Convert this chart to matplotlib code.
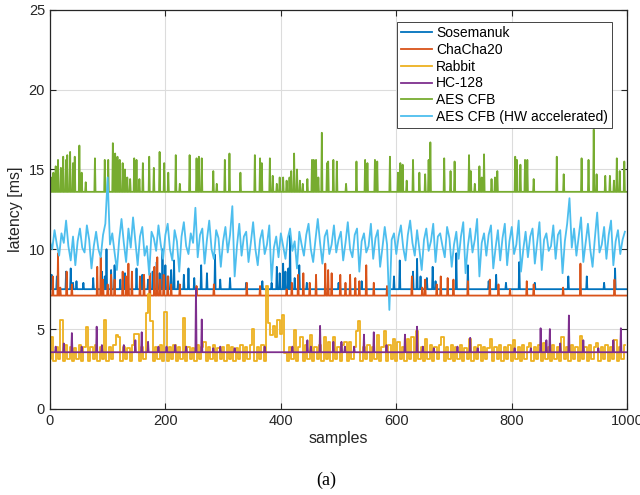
import numpy as np
import matplotlib
matplotlib.use("Agg")
import matplotlib.pyplot as plt

plt.rcParams['font.family'] = ['Liberation Sans', 'DejaVu Sans']

n_samples = 1000
series_names = ['Sosemanuk', 'ChaCha20', 'Rabbit', 'HC-128', 'AES CFB', 'AES CFB (HW accelerated)']

# flat series: baseline latency + (sample, latency) spikes
sosemanuk_base = 7.5
sosemanuk_spikes = [(3, 8.4), (12, 8.3), (28, 8.6), (36, 8.8), (40, 7.9), (46, 8.0), (58, 7.9), (75, 8.2),
                    (90, 8.6), (95, 8.3), (98, 10.0), (106, 8.7), (112, 9.0), (122, 8.1), (130, 8.5), (135, 8.2),
                    (150, 8.8), (160, 8.4), (170, 8.1), (178, 8.6), (185, 9.2), (190, 8.5), (195, 10.0), (200, 9.0),
                    (205, 8.3), (210, 8.7), (215, 9.3), (222, 8.0), (232, 8.4), (240, 8.8), (250, 8.2), (262, 9.0),
                    (272, 8.5), (286, 9.65), (295, 8.1), (312, 8.2), (340, 7.9), (368, 8.0), (384, 7.9), (393, 8.9),
                    (398, 8.5), (404, 9.1), (408, 8.6), (413, 8.8), (416, 10.9), (424, 8.2), (432, 9.0), (445, 7.9),
                    (500, 7.9), (540, 8.0), (596, 8.3), (606, 9.3), (629, 8.6), (636, 9.4), (642, 8.3), (653, 8.2),
                    (663, 8.9), (668, 8.0), (704, 9.75), (724, 9.0), (760, 8.0), (773, 8.4), (790, 7.9), (813, 9.2),
                    (840, 7.9), (898, 8.3), (930, 8.3), (960, 7.9), (979, 8.8)]

chacha_base = 7.1
chacha_spikes = [(5, 8.3), (14, 9.75), (18, 7.6), (29, 8.6), (38, 7.8), (82, 8.9), (88, 9.5), (92, 8.1),
                 (100, 7.8), (106, 8.4), (112, 8.1), (126, 8.6), (132, 8.3), (136, 9.1), (142, 8.6), (156, 8.3),
                 (163, 8.4), (173, 8.5), (181, 8.9), (186, 9.5), (191, 8.1), (197, 8.4), (204, 8.3), (210, 7.8),
                 (225, 7.8), (254, 7.7), (284, 7.8), (341, 7.9), (364, 7.7), (410, 7.5), (419, 7.9), (430, 8.4),
                 (439, 8.5), (450, 7.9), (461, 8.4), (477, 9.1), (482, 8.7), (488, 8.5), (503, 8.4), (512, 7.9),
                 (520, 8.4), (529, 8.2), (536, 8.0), (548, 9.0), (561, 7.9), (584, 7.7), (627, 8.3), (645, 7.6),
                 (650, 8.1), (670, 7.8), (677, 8.3), (689, 8.2), (699, 8.1), (724, 8.0), (762, 8.1), (777, 7.8),
                 (797, 7.5), (826, 8.0), (838, 7.8), (889, 7.6), (919, 9.1), (978, 8.1)]

hc128_base = 3.55
hc128_spikes = [(10, 3.9), (24, 4.1), (38, 4.75), (55, 3.9), (81, 5.15), (90, 4.0), (128, 4.0), (148, 4.3),
                (159, 4.8), (170, 4.2), (188, 3.9), (202, 3.9), (217, 4.0), (236, 3.9), (253, 7.55), (263, 5.6),
                (283, 3.8), (295, 3.9), (320, 3.8), (372, 3.9), (420, 3.9), (446, 4.3), (452, 3.9), (468, 5.2),
                (491, 4.2), (505, 4.2), (511, 3.9), (527, 3.9), (544, 4.65), (561, 4.8), (583, 4.0), (615, 4.65),
                (636, 5.15), (646, 3.9), (665, 3.8), (706, 3.9), (728, 4.45), (741, 3.8), (805, 3.8), (833, 3.8),
                (850, 5.05), (860, 4.3), (866, 5.0), (884, 4.1), (899, 5.85), (924, 4.3), (950, 3.8), (976, 4.3),
                (989, 5.05)]

aes_base = 13.6
aes_spikes = [(2, 14.5), (6, 14.8), (10, 15.2), (14, 15.6), (19, 15.1), (23, 15.8), (28, 15.6), (30, 15.9),
              (35, 16.1), (40, 15.4), (43, 15.8), (51, 16.5), (55, 14.8), (62, 14.2), (78, 15.7), (95, 15.6),
              (101, 15.6), (109, 16.65), (113, 16.0), (117, 15.8), (121, 15.6), (126, 15.4), (130, 15.0), (134, 14.5),
              (139, 14.4), (146, 15.7), (150, 15.6), (155, 14.4), (161, 15.4), (172, 15.8), (180, 15.1), (190, 16.1),
              (198, 15.4), (205, 14.8), (218, 15.9), (225, 14.1), (242, 15.9), (254, 15.7), (258, 15.8), (263, 15.7),
              (283, 14.9), (289, 14.1), (303, 15.6), (311, 16.0), (330, 14.8), (355, 15.9), (364, 15.7), (367, 15.4),
              (381, 15.7), (386, 14.6), (393, 14.1), (398, 14.5), (404, 14.5), (410, 14.3), (415, 14.5), (418, 14.9),
              (423, 16.0), (428, 15.0), (433, 14.3), (438, 14.1), (446, 14.4), (454, 15.6), (457, 15.6), (461, 15.6),
              (465, 14.5), (471, 17.3), (480, 15.4), (482, 15.5), (491, 15.6), (497, 15.5), (513, 14.1), (531, 15.5),
              (546, 15.6), (550, 15.4), (563, 15.6), (567, 15.5), (589, 15.8), (603, 14.8), (607, 15.4), (611, 15.3),
              (618, 14.3), (629, 15.6), (640, 14.8), (650, 14.7), (656, 15.6), (659, 16.7), (683, 15.7), (694, 14.9),
              (701, 15.5), (726, 15.9), (729, 14.9), (736, 14.1), (744, 15.2), (748, 14.5), (752, 15.95), (765, 14.4),
              (771, 14.5), (775, 14.9), (806, 15.8), (809, 15.6), (815, 15.3), (823, 15.6), (827, 15.6), (838, 14.4),
              (878, 15.8), (890, 14.7), (921, 15.7), (933, 15.6), (942, 17.5), (947, 14.7), (962, 14.6), (970, 14.6),
              (977, 14.3), (982, 15.7), (987, 14.9), (995, 15.5)]

# noisy series, read every 4th sample
step = 4
rabbit = [3.1, 4.5, 3.0, 3.9, 3.1, 5.6, 3.0, 4.0, 3.1, 3.9, 3.0, 3.8, 3.1, 4.0, 3.0, 3.9, 5.1, 3.0, 3.9, 3.1, 4.0, 3.0, 3.9, 3.1, 5.6,
          3.0, 3.9, 3.1, 4.0, 4.6, 4.5, 3.0, 3.9, 3.1, 3.8, 3.0, 4.0, 4.7, 4.7, 3.0, 3.9, 3.1, 6.0, 7.2, 5.5, 3.0, 3.9, 3.1, 4.0, 3.0,
          6.1, 3.0, 3.9, 3.1, 4.0, 3.0, 3.9, 3.1, 5.7, 3.0, 3.9, 3.1, 3.8, 3.0, 4.0, 3.1, 3.9, 4.2, 3.0, 3.9, 3.1, 4.0, 3.0, 3.8, 3.1,
          3.9, 3.0, 4.0, 3.1, 3.9, 3.0, 3.8, 3.1, 4.0, 3.0, 3.9, 3.1, 4.0, 5.0, 3.0, 3.9, 3.1, 4.0, 3.0, 7.7, 5.4, 4.6, 5.2, 4.5, 5.6,
          4.7, 5.9, 3.5, 3.0, 3.9, 3.1, 4.95, 3.0, 3.9, 4.5, 3.0, 4.0, 3.1, 4.6, 3.0, 3.9, 3.1, 4.0, 3.0, 4.5, 3.1, 4.2, 3.0, 4.5, 3.1,
          3.9, 3.0, 4.0, 4.2, 3.0, 4.2, 3.1, 3.9, 4.85, 5.5, 3.0, 3.9, 3.1, 4.0, 3.0, 3.9, 3.1, 4.65, 3.0, 3.9, 4.85, 3.0, 4.0, 3.1, 4.4,
          3.0, 4.2, 3.1, 3.9, 3.0, 4.4, 3.1, 4.5, 3.0, 4.85, 3.1, 3.9, 3.0, 4.4, 3.1, 4.0, 3.0, 3.9, 3.1, 4.0, 4.5, 3.0, 3.9, 3.1, 4.0,
          3.0, 3.9, 3.1, 4.0, 3.0, 3.8, 3.1, 4.4, 3.0, 3.9, 3.1, 4.0, 3.0, 3.9, 3.1, 3.8, 4.4, 3.0, 3.9, 3.1, 4.0, 3.0, 3.9, 3.1, 4.0,
          3.0, 4.3, 3.1, 3.9, 3.0, 4.0, 3.1, 3.9, 4.1, 3.0, 3.9, 3.1, 4.0, 3.0, 4.1, 3.1, 3.9, 3.0, 4.0, 3.1, 3.9, 3.0, 4.5, 3.1, 3.9,
          3.0, 4.0, 3.1, 3.9, 3.0, 4.55, 3.1, 3.9, 3.0, 4.0, 3.1, 3.9, 4.1, 3.0, 3.9, 3.1, 4.0, 3.0, 3.9, 3.1, 4.3, 3.0, 3.9, 3.1, 4.0]

aes_hw = [10.5, 10.0, 11.2, 10.3, 9.6, 11.0, 10.4, 11.8, 10.2, 9.3, 10.8, 9.0, 10.5, 11.3, 10.1, 9.8, 11.5, 10.6, 8.8, 10.2, 11.1, 10.0, 9.5, 10.9, 11.6,
          14.5, 10.3, 11.0, 9.8, 8.7, 10.6, 11.9, 10.4, 9.2, 11.3, 10.1, 12.0, 10.5, 9.0, 10.8, 11.4, 9.6, 10.2, 8.4, 11.1, 10.7, 9.9, 11.5, 10.3, 9.4,
          10.9, 11.6, 10.0, 9.3, 11.2, 10.5, 8.6, 10.8, 11.7, 10.2, 9.7, 11.0, 10.4, 12.6, 9.5, 10.9, 11.3, 9.1, 10.6, 11.8, 10.0, 9.4, 11.2, 10.7, 8.9,
          10.5, 11.4, 9.8, 10.9, 12.7, 8.3, 10.2, 11.6, 9.6, 10.8, 11.1, 9.2, 10.4, 11.7, 10.0, 9.0, 10.6, 11.2, 9.7, 10.3, 11.5, 8.0, 10.1, 10.8, 9.5,
          11.0, 10.2, 9.4, 10.7, 11.3, 9.9, 10.5, 8.8, 11.1, 10.3, 9.6, 10.9, 11.6, 10.0, 9.2, 10.6, 11.9, 10.4, 9.1, 10.8, 11.2, 9.7, 10.3, 11.5, 9.8,
          10.6, 11.1, 9.3, 10.4, 11.7, 10.0, 9.5, 10.9, 11.3, 8.6, 10.5, 11.0, 9.8, 10.2, 11.6, 9.4, 10.7, 11.2, 8.9, 10.1, 11.4, 10.3, 6.2, 10.6, 11.0,
          9.7, 10.8, 11.5, 10.1, 9.3, 10.9, 11.8, 10.4, 9.6, 11.2, 10.0, 8.7, 10.6, 11.3, 9.9, 10.5, 11.6, 9.2, 10.8, 11.0, 10.2, 9.5, 11.4, 10.7, 8.9,
          10.3, 11.1, 9.4, 10.8, 11.7, 8.5, 10.2, 11.3, 9.8, 10.6, 11.9, 8.3, 10.4, 11.0, 9.6, 10.9, 11.5, 8.8, 10.1, 11.2, 9.3, 10.7, 11.6, 9.0, 10.5,
          11.4, 9.7, 10.3, 11.8, 8.6, 10.0, 11.1, 9.5, 10.8, 11.3, 9.1, 10.4, 11.7, 8.7, 10.6, 11.0, 9.9, 10.2, 11.5, 9.4, 10.9, 11.2, 8.5, 10.5, 11.6,
          13.2, 10.1, 11.3, 9.6, 10.8, 12.0, 9.2, 10.4, 11.6, 10.0, 8.9, 10.7, 12.3, 9.8, 10.3, 11.4, 9.4, 10.9, 11.8, 9.0, 10.5, 11.2, 9.7, 10.6, 11.1]

colors = ['#0072BD', '#D95319', '#EDB120', '#7E2F8E', '#77AC30', '#4DBEEE']


def with_spikes(base, spikes):
    y = np.full(n_samples, base)
    for i, v in spikes:
        y[i] = v
    return y


x_full = np.arange(n_samples)
x_step = np.arange(0, n_samples, step)

fig = plt.figure(figsize=(6.4, 4.95), dpi=100)
ax = fig.add_axes([0.078, 0.174, 0.902, 0.806])

ax.plot(x_full, with_spikes(sosemanuk_base, sosemanuk_spikes), color=colors[0], lw=1.3, label=series_names[0])
ax.plot(x_full, with_spikes(chacha_base, chacha_spikes), color=colors[1], lw=1.3, label=series_names[1])
ax.plot(x_step, rabbit, color=colors[2], lw=1.3, drawstyle='steps-mid', label=series_names[2])
ax.plot(x_full, with_spikes(hc128_base, hc128_spikes), color=colors[3], lw=1.3, label=series_names[3])
ax.plot(x_full, with_spikes(aes_base, aes_spikes), color=colors[4], lw=1.3, label=series_names[4])
ax.plot(x_step, aes_hw, color=colors[5], lw=1.3, label=series_names[5])

ax.set_xlim(0, 1000)
ax.set_ylim(0, 25)
ax.set_xticks(np.arange(0, 1001, 200))
ax.set_yticks(np.arange(0, 26, 5))
ax.grid(True, color='#dcdcdc', lw=0.8)
ax.set_axisbelow(True)
ax.tick_params(direction='in', top=True, right=True, labelsize=10.5, colors='#262626', length=4)
for s in ax.spines.values():
    s.set_color('#262626')
    s.set_linewidth(0.9)

ax.set_xlabel('samples', fontsize=11.5, color='#262626', labelpad=2)
ax.set_ylabel('latency [ms]', fontsize=11.5, color='#262626', labelpad=4)

leg = ax.legend(loc='upper right', bbox_to_anchor=(0.974, 0.97), borderaxespad=0, fontsize=10, fancybox=False,
                framealpha=1, edgecolor='#262626', handlelength=2.2, borderpad=0.3,
                labelspacing=0.2, handletextpad=0.3)
leg.get_frame().set_linewidth(0.6)

fig.text(0.51, 0.02, '(a)', family=['Liberation Serif', 'DejaVu Serif'], fontsize=13, ha='center')

fig.savefig('out.png', dpi=100)
